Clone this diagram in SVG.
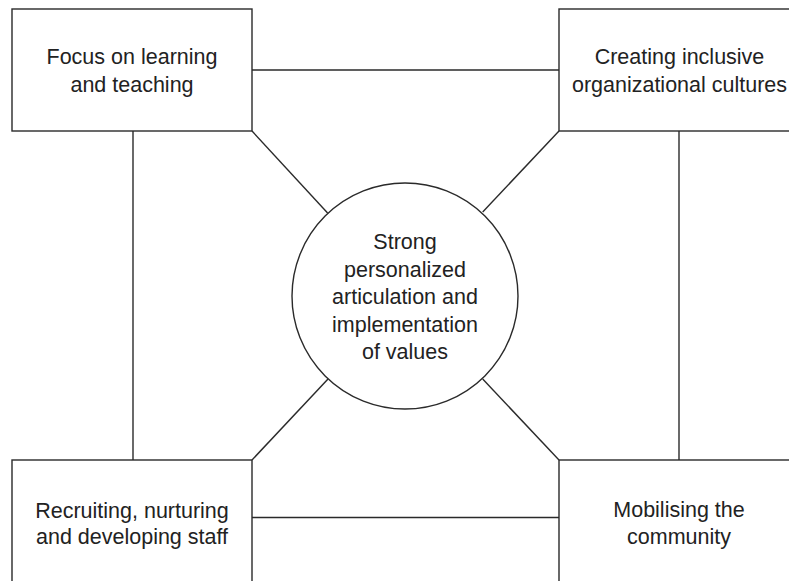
<svg xmlns="http://www.w3.org/2000/svg" width="789" height="581" viewBox="0 0 789 581">
<style>
.box{fill:#fff;stroke:#2a2a2a;stroke-width:1.4}
.ln{stroke:#2a2a2a;stroke-width:1.4;fill:none}
.t{font-family:"Liberation Sans",Arial,Helvetica,sans-serif;font-size:21.5px;fill:#222;text-anchor:middle}
</style>
<rect width="789" height="581" fill="#fff"/>
<g id="connectors">
<line class="ln" x1="252" y1="70" x2="559" y2="70"/>
<line class="ln" x1="252" y1="517.5" x2="559" y2="517.5"/>
<line class="ln" x1="133" y1="131" x2="133" y2="460"/>
<line class="ln" x1="679" y1="131" x2="679" y2="460"/>
<line class="ln" x1="252" y1="131" x2="327.6" y2="213"/>
<line class="ln" x1="559" y1="131" x2="482.7" y2="212"/>
<line class="ln" x1="252" y1="460" x2="328" y2="379"/>
<line class="ln" x1="559" y1="460" x2="482.7" y2="379"/>
</g>
<g id="node-focus">
<rect class="box" x="12" y="9" width="240" height="122"/>
<text class="t" x="132" y="64">Focus on learning</text>
<text class="t" x="132" y="91.7">and teaching</text>
</g>
<g id="node-creating">
<rect class="box" x="559" y="9" width="240" height="122"/>
<text class="t" x="679.5" y="64">Creating inclusive</text>
<text class="t" x="679.5" y="91.7">organizational cultures</text>
</g>
<g id="node-recruiting">
<rect class="box" x="12" y="460" width="240" height="130"/>
<text class="t" x="132" y="517.7">Recruiting, nurturing</text>
<text class="t" x="132" y="544.3">and developing staff</text>
</g>
<g id="node-mobilising">
<rect class="box" x="559" y="460" width="240" height="130"/>
<text class="t" x="679" y="516.7">Mobilising the</text>
<text class="t" x="679" y="544.3">community</text>
</g>
<g id="node-values">
<circle class="box" cx="405" cy="296" r="113"/>
<text class="t" x="405" y="249">Strong</text>
<text class="t" x="405" y="276.5">personalized</text>
<text class="t" x="405" y="304">articulation and</text>
<text class="t" x="405" y="331.5">implementation</text>
<text class="t" x="405" y="359">of values</text>
</g>
</svg>
